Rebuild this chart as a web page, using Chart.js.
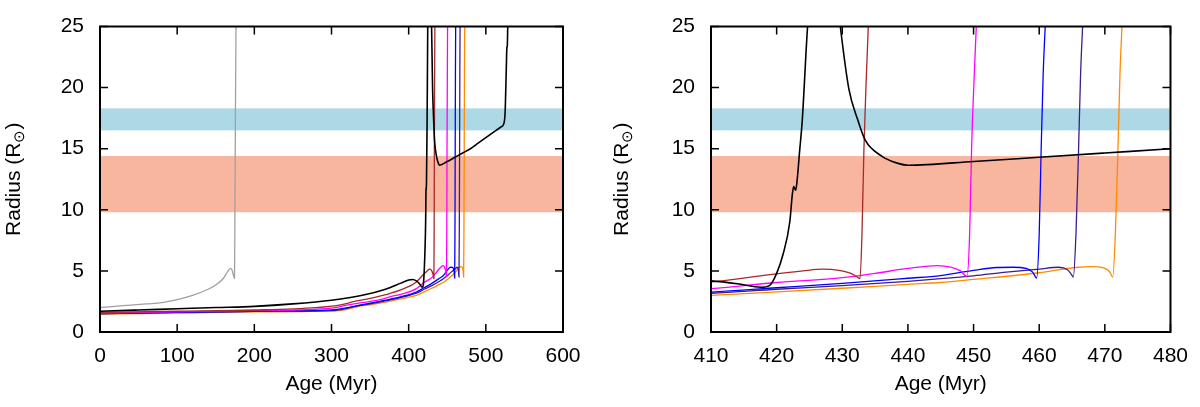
<!DOCTYPE html>
<html>
<head>
<meta charset="utf-8">
<script src="https://cdn.jsdelivr.net/npm/chart.js@4"></script>
<style>
html,body{margin:0;padding:0;background:#fff;}
#wrap{position:relative;width:1200px;height:407px;}
canvas{position:absolute;top:0;}
#leftChart{left:0;}
#rightChart{left:600px;}
</style>
</head>
<body>
<div id="wrap">
  <canvas id="leftChart" width="600" height="407"></canvas>
  <canvas id="rightChart" width="600" height="407"></canvas>
</div>
<script>
// observed radius bands (R_sun)
var BAND_BLUE   = [16.5, 18.3];
var BAND_SALMON = [9.8, 14.4];

// y title pieces: main text, subscript, closing
var Y_TITLE = ["Radius (R", "\u2299", ")"];

// evolutionary tracks: age (Myr) / radius (R_sun)
var GRAY_AGE = [0, 30, 60, 80, 100, 120, 140, 150, 160, 165, 169, 171, 173, 174.3, 174.8, 175.5, 176.3, 177];
var GRAY_R   = [2.0, 2.15, 2.3, 2.4, 2.65, 3.0, 3.5, 3.85, 4.4, 4.9, 5.2, 5.1, 4.6, 4.4, 9, 18, 25.5, 30];

var BLACK_AGE = [0, 50, 100, 150, 200, 250, 300, 340, 370, 390, 400, 405, 410, 414, 417.6, 418.9, 420, 421, 422, 422.4, 422.6, 422.9, 423.1, 423.5, 423.9, 424.7, 425.5, 427, 428.5, 429.7, 431, 432.4, 433.5, 436, 438.5, 440, 450, 460, 470, 480, 490, 500, 510, 520, 523, 525, 526.5, 527.3, 527.8, 528.5, 529.5];
var BLACK_R   = [1.7, 1.8, 1.9, 2.0, 2.1, 2.3, 2.6, 3.0, 3.5, 4.0, 4.25, 4.3, 4.18, 3.95, 3.66, 3.8, 4.8, 6.4, 9.0, 11.3, 11.9, 11.6, 12.3, 14.8, 17.3, 24.9, 30, 34, 31, 25, 19.9, 17.3, 15.7, 14.4, 13.8, 13.65, 13.95, 14.3, 14.65, 15.0, 15.45, 15.9, 16.35, 16.8, 17.0, 18.0, 21.5, 23.3, 23.4, 25.5, 30];

var BROWN_AGE = [0, 100, 200, 280, 310, 330, 350, 370, 393, 410, 419, 424, 427, 429.5, 431, 432, 432.7, 433, 433.3, 433.6, 434, 434.5];
var BROWN_R   = [1.6, 1.7, 1.8, 2.0, 2.2, 2.5, 2.75, 3.05, 3.53, 4.1, 4.7, 5.0, 5.14, 5.05, 4.85, 4.6, 4.36, 8, 15, 20, 25.5, 30];

var MAGENTA_AGE = [0, 100, 200, 300, 320, 340, 360, 380, 393, 410, 420, 430, 435, 440, 444.5, 446.5, 448, 449, 449.4, 449.7, 450.1, 450.5];
var MAGENTA_R   = [1.55, 1.65, 1.75, 1.95, 2.2, 2.4, 2.6, 2.95, 3.14, 3.55, 4.05, 4.45, 4.8, 5.2, 5.43, 5.3, 5.0, 4.55, 8, 15, 21, 26];

var BLUE_AGE = [0, 100, 200, 300, 330, 350, 370, 393, 410, 420, 430, 440, 445, 450, 453.5, 456, 458, 459, 459.6, 460, 460.3, 460.6, 461];
var BLUE_R   = [1.5, 1.6, 1.7, 1.8, 2.1, 2.36, 2.6, 2.93, 3.27, 3.62, 3.98, 4.4, 4.62, 5.05, 5.28, 5.3, 5.2, 4.9, 4.42, 8, 15, 21, 26];

var PURPLE_AGE = [0, 100, 200, 300, 335, 350, 370, 393, 410, 420, 430, 440, 445, 450, 455, 460, 463, 464.3, 464.8, 465.2, 465.6, 466, 466.3, 466.7];
var PURPLE_R   = [1.5, 1.6, 1.7, 1.75, 2.15, 2.3, 2.55, 2.88, 3.17, 3.5, 3.8, 4.15, 4.36, 4.6, 4.9, 5.15, 5.3, 5.1, 4.8, 4.5, 8, 15, 21, 26];

var ORANGE_AGE = [0, 100, 200, 310, 340, 350, 370, 393, 410, 420, 430, 440, 445, 450, 460, 465.5, 468, 469.8, 470.7, 471.2, 471.6, 472, 472.3, 472.7];
var ORANGE_R   = [1.45, 1.55, 1.65, 1.75, 2.15, 2.23, 2.45, 2.75, 3.0, 3.28, 3.58, 3.9, 4.05, 4.3, 4.85, 5.28, 5.35, 5.25, 4.95, 4.5, 8, 15, 21, 26];

var FAMILY = "'Liberation Sans', Arial, Helvetica, sans-serif";
var FONT = { family: FAMILY, size: 21 };

function pts(ages, radii){
  var out = [];
  for (var i=0;i<ages.length;i++) out.push({ x: ages[i], y: radii[i] });
  return out;
}

function track(ages, radii, color, width){
  return {
    data: pts(ages, radii),
    borderColor: color,
    borderWidth: width,
    pointRadius: 0,
    fill: false,
    cubicInterpolationMode: "monotone"
  };
}

// bands behind the curves, closed frame with inward ticks, y title with subscript
var framePlugin = {
  id: "frame",
  beforeDatasetsDraw: function(chart){
    var c = chart.ctx, a = chart.chartArea, y = chart.scales.y;
    var bands = [[BAND_BLUE, "#add8e6"], [BAND_SALMON, "#f9b69e"]];
    c.save();
    for (var i=0;i<bands.length;i++){
      var top = y.getPixelForValue(bands[i][0][1]);
      var bot = y.getPixelForValue(bands[i][0][0]);
      c.fillStyle = bands[i][1];
      c.fillRect(a.left, top, a.right - a.left, bot - top);
    }
    c.restore();
  },
  afterDraw: function(chart, args, opts){
    var c = chart.ctx, a = chart.chartArea, x = chart.scales.x, y = chart.scales.y;
    var len = 8;
    c.save();
    c.strokeStyle = "#000";
    c.lineWidth = 1.5;
    c.beginPath();
    x.ticks.forEach(function(t){
      var px = x.getPixelForValue(t.value);
      c.moveTo(px, a.bottom); c.lineTo(px, a.bottom - len);
      c.moveTo(px, a.top);    c.lineTo(px, a.top + len);
    });
    y.ticks.forEach(function(t){
      var py = y.getPixelForValue(t.value);
      c.moveTo(a.left, py);  c.lineTo(a.left + len, py);
      c.moveTo(a.right, py); c.lineTo(a.right - len, py);
    });
    c.stroke();
    c.lineWidth = 2;
    c.strokeRect(a.left, a.top, a.right - a.left, a.bottom - a.top);

    // rotated y title
    var big = "21px " + FAMILY, small = "15px " + FAMILY;
    c.font = big;
    var w0 = c.measureText(Y_TITLE[0]).width;
    var w2 = c.measureText(Y_TITLE[2]).width;
    c.font = small;
    var w1 = c.measureText(Y_TITLE[1]).width;
    var total = w0 + w1 + w2;
    c.translate(opts.titleX, (a.top + a.bottom) / 2);
    c.rotate(-Math.PI / 2);
    c.fillStyle = "#000";
    c.textBaseline = "middle";
    c.textAlign = "left";
    var sx = -total / 2;
    c.font = big;  c.fillText(Y_TITLE[0], sx, 0);
    c.font = small; c.fillText(Y_TITLE[1], sx + w0, 6);
    c.font = big;  c.fillText(Y_TITLE[2], sx + w0 + w1, 0);
    c.restore();
  }
};

function makeChart(id, xMin, xMax, step, yWidth, rightPad, titleX){
  var ctx = document.getElementById(id).getContext("2d");
  return new Chart(ctx, {
    type: "line",
    data: {
      datasets: [
        track(BLACK_AGE, BLACK_R, "#000000", 1.6),
        track(GRAY_AGE, GRAY_R, "#a0a0a0", 1.3),
        track(BROWN_AGE, BROWN_R, "#a52a2a", 1.3),
        track(MAGENTA_AGE, MAGENTA_R, "#ff00ff", 1.3),
        track(BLUE_AGE, BLUE_R, "#0000ff", 1.3),
        track(PURPLE_AGE, PURPLE_R, "#3d1c8c", 1.3),
        track(ORANGE_AGE, ORANGE_R, "#ff8c00", 1.3)
      ]
    },
    options: {
      responsive: false,
      animation: false,
      layout: { padding: { top: 11, left: 0, right: rightPad, bottom: 0 } },
      plugins: {
        legend: { display: false },
        tooltip: { enabled: false },
        frame: { titleX: titleX }
      },
      scales: {
        x: {
          type: "linear", min: xMin, max: xMax,
          grid: { display: false, drawTicks: false },
          border: { display: false },
          ticks: { stepSize: step, color: "#000", font: FONT, padding: 12, maxRotation: 0, autoSkip: false },
          title: { display: true, text: "Age (Myr)", color: "#000", font: FONT, padding: { top: 0, bottom: 10 } },
          afterFit: function(s){ s.height = 75; }
        },
        y: {
          min: 0, max: 25,
          grid: { display: false, drawTicks: false },
          border: { display: false },
          ticks: { stepSize: 5, color: "#000", font: { family: FAMILY, size: 21, lineHeight: 1 }, padding: 16 },
          afterFit: function(s){ s.width = yWidth; }
        }
      }
    },
    plugins: [framePlugin]
  });
}

makeChart("leftChart", 0, 600, 100, 100, 37, 14);
makeChart("rightChart", 410, 480, 10, 111, 27, 22);
</script>
</body>
</html>
